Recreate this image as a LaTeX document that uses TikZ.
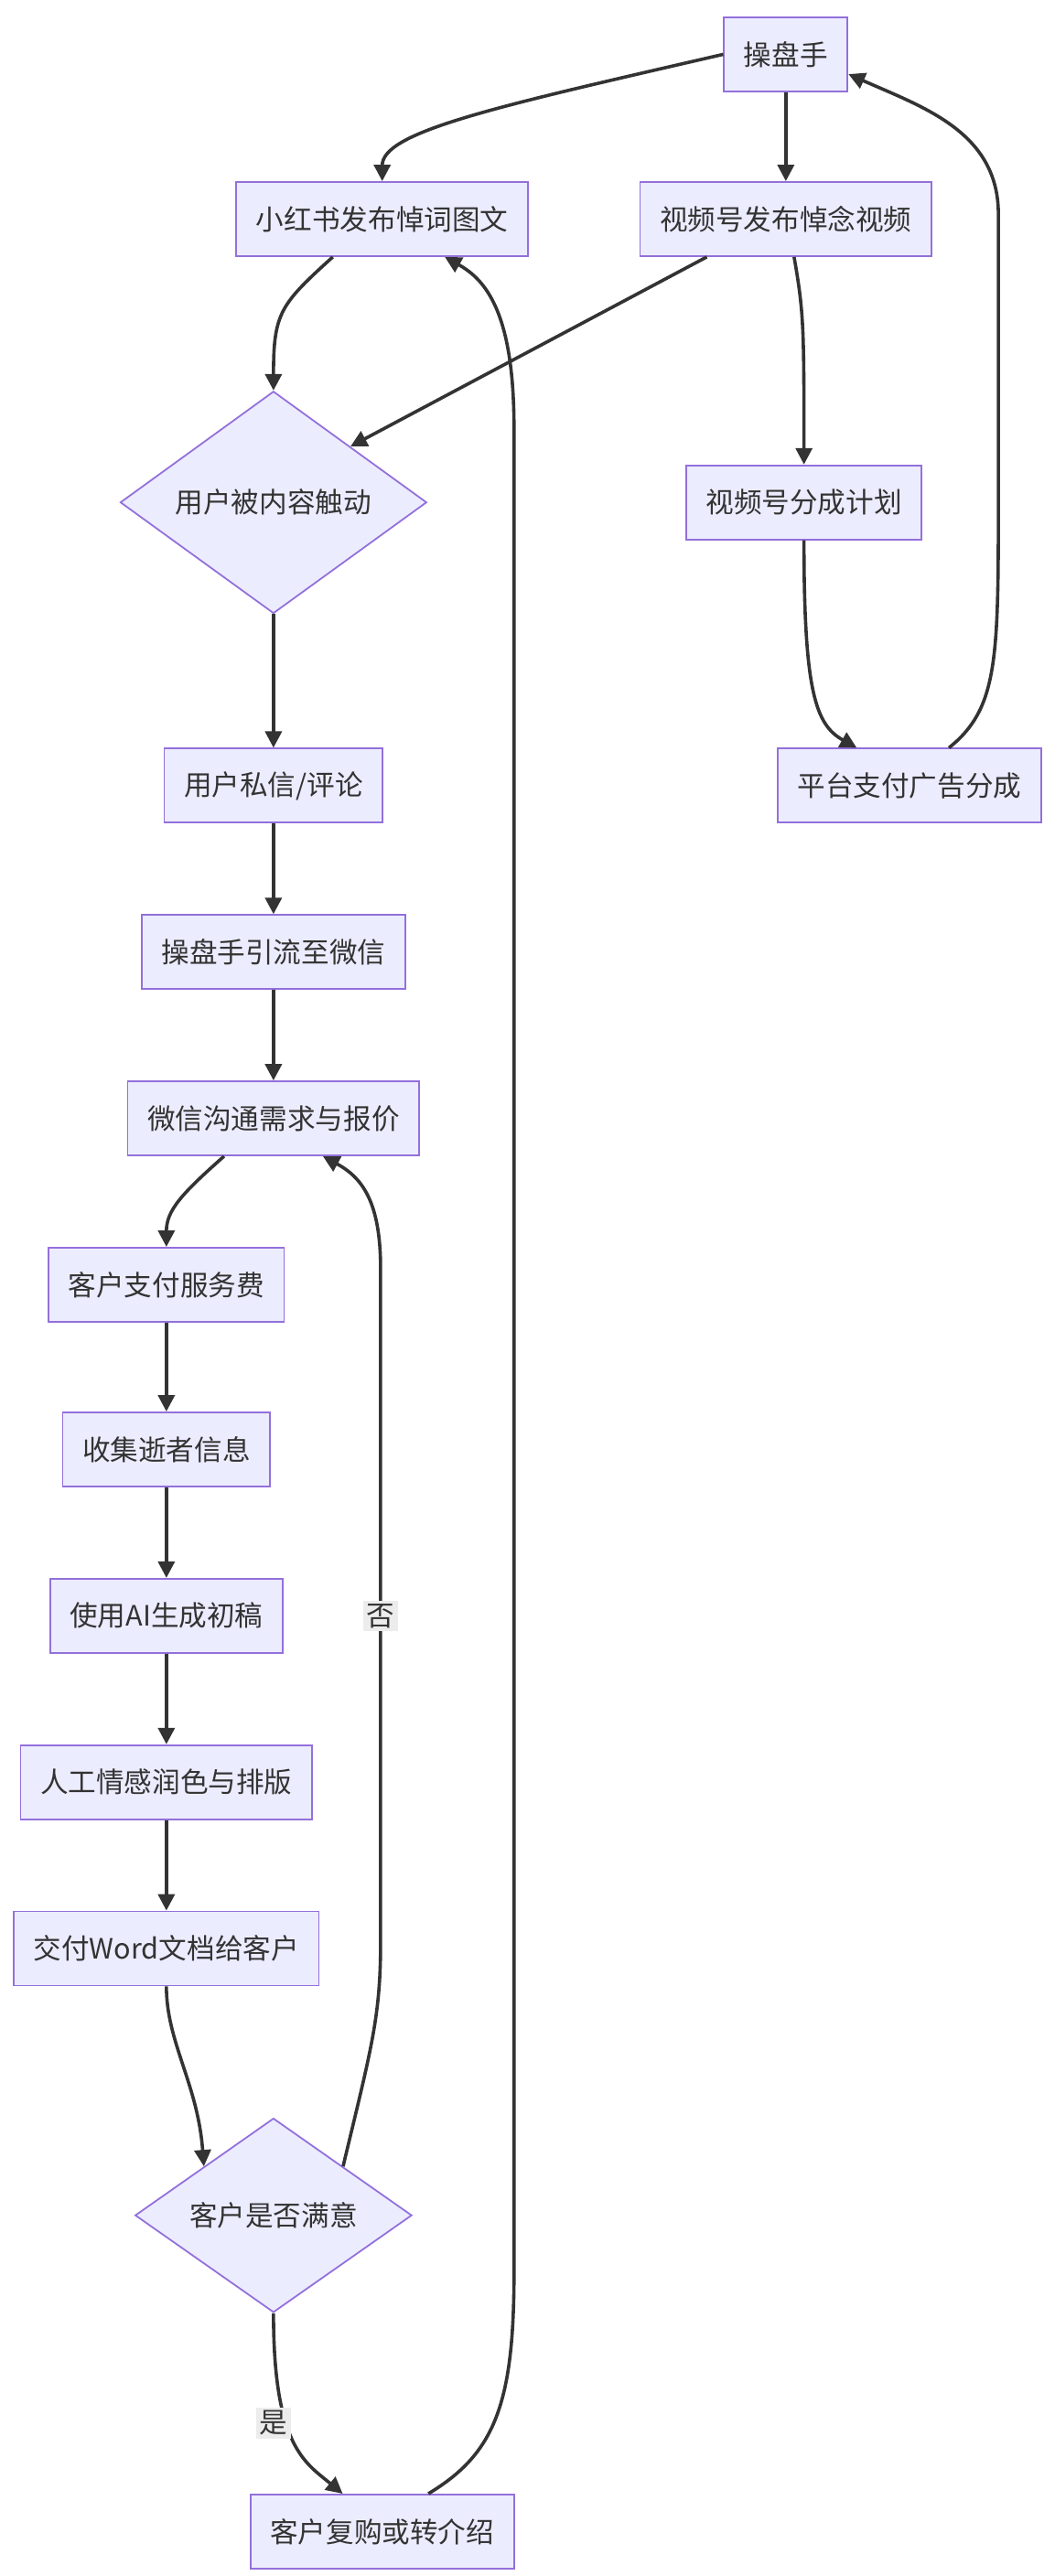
\documentclass[tikz,border=0pt]{standalone}
\usepackage{fontspec}
\setmainfont{Noto Sans CJK SC}
\usetikzlibrary{shapes.geometric,arrows.meta}
\definecolor{boxfill}{HTML}{ECECFF}
\definecolor{boxline}{HTML}{9370DB}
\definecolor{edge}{HTML}{333333}
\tikzset{
  box/.style={draw=boxline,fill=boxfill,line width=0.5pt,minimum height=22.5pt,inner xsep=6pt,font=\fontsize{8.5}{10}\selectfont,text=edge},
  check/.style={box,diamond,aspect=1,inner sep=0pt},
  flow/.style={draw=edge,line width=1pt,-{Triangle[length=5pt,width=5pt]}},
  tag/.style={fill=gray!15,inner sep=1pt,font=\fontsize{8.5}{10}\selectfont,text=edge}
}
\begin{document}
\begin{tikzpicture}[x=0.5pt,y=-0.5pt]
\useasboundingbox (0,0) rectangle (640,1564);
% upper part
\node[box] (op) at (477,33) {操盘手};
\node[box] (xhs) at (232,133) {小红书发布悼词图文};
\node[box] (sph) at (477,133) {视频号发布悼念视频};
\node[check,minimum width=93pt] (touch) at (166,305) {用户被内容触动};
\node[box] (plan) at (488,305) {视频号分成计划};
\node[box] (pay) at (552,477) {平台支付广告分成};
% main chain
\node[box] (msg) at (166,477) {用户私信/评论};
\node[box] (wx) at (166,578) {操盘手引流至微信};
\node[box] (talk) at (166,679) {微信沟通需求与报价};
\node[box] (fee) at (101,780) {客户支付服务费};
\node[box] (info) at (101,880) {收集逝者信息};
\node[box] (ai) at (101,981) {使用AI生成初稿};
\node[box] (edit) at (101,1082) {人工情感润色与排版};
\node[box] (doc) at (101,1183) {交付Word文档给客户};
\node[check,minimum width=84pt] (ok) at (166,1345) {客户是否满意};
\node[box] (again) at (232,1537) {客户复购或转介绍};
% connectors
\draw[flow] (op.west) .. controls (300,65) and (232,80) .. (xhs.north);
\draw[flow] (op) -- (sph);
\draw[flow] ([xshift=-15pt]xhs.south) .. controls (170,185) and (166,190) .. (touch.north);
\draw[flow] ([xshift=-24pt]sph.south) -- (touch.north east);
\draw[flow] ([xshift=2.5pt]sph.south) .. controls (488,190) and (488,200) .. (plan.north);
\draw[flow] (plan.south) .. controls (488,420) and (495,440) .. ([xshift=-16pt]pay.north);
\draw[flow] ([xshift=12pt]pay.north) .. controls (606,430) and (606,400) .. (606,300)
  -- (606,130) .. controls (606,80) and (560,65) .. ([yshift=-6pt]op.east);
\draw[flow] (touch) -- (msg);
\draw[flow] (msg) -- (wx);
\draw[flow] (wx) -- (talk);
\draw[flow] ([xshift=-15pt]talk.south) .. controls (110,725) and (101,735) .. (fee.north);
\draw[flow] (fee) -- (info);
\draw[flow] (info) -- (ai);
\draw[flow] (ai) -- (edit);
\draw[flow] (edit) -- (doc);
\draw[flow] (doc.south) .. controls (101,1240) and (120,1265) .. (ok.north west);
\draw[flow] (ok.north east) .. controls (225,1245) and (231,1225) .. (231,1180)
  -- (231,770) .. controls (231,730) and (220,715) .. ([xshift=15pt]talk.south);
\node[tag] (no) at (231,981) {否};
\draw[flow] (ok.south) .. controls (166,1485) and (185,1495) .. ([xshift=-12pt]again.north);
\node[tag] (yes) at (166,1471) {是};
\draw[flow] ([xshift=14pt]again.north) .. controls (300,1490) and (312,1460) .. (312,1380)
  -- (312,260) .. controls (312,190) and (295,170) .. ([xshift=19pt]xhs.south);
\end{tikzpicture}
\end{document}
